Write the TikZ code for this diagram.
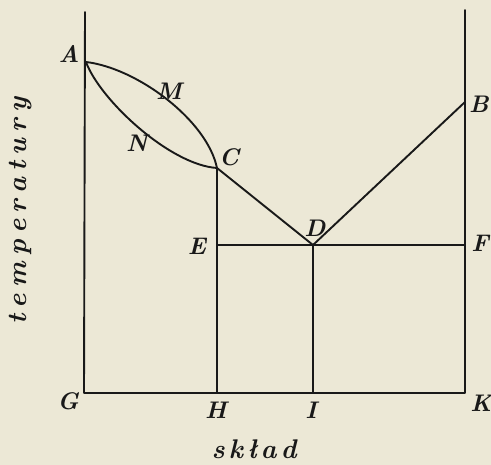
\documentclass[tikz,border=0pt]{standalone}
\usepackage{fontspec}
\definecolor{bgcol}{RGB}{236,232,214}
\definecolor{ink}{RGB}{25,25,25}
\begin{document}
\begin{tikzpicture}[x=1pt,y=-1pt,
  ln/.style={line width=1.9pt, draw=ink, line cap=round, line join=round},
  lbl/.style={font=\fontsize{24}{28}\selectfont\bfseries\itshape, text=ink, inner sep=0pt},
  axtext/.style={font=\fontsize{27}{30}\selectfont\bfseries\itshape, text=ink, inner sep=0pt}]
\fill[bgcol] (0,0) rectangle (491,465);
\useasboundingbox (0,0) rectangle (491,465);
% points
\coordinate (ltop) at (85,12);
\coordinate (rtop) at (465,10);
\coordinate (pA) at (86,62);
\coordinate (pB) at (465,102);
\coordinate (pC) at (217,168);
\coordinate (pD) at (313,245);
\coordinate (pE) at (217,245);
\coordinate (pF) at (465,245);
\coordinate (pG) at (84,393);
\coordinate (pH) at (217,393);
\coordinate (pI) at (313,393);
\coordinate (pK) at (465,393);
% lines
\draw[ln] (ltop) -- (pG) -- (pK) -- (rtop);
\draw[ln] (pA) .. controls (137,68) and (207,120) .. (pC);
\draw[ln] (pA) .. controls (100,100) and (170,165) .. (pC);
\draw[ln] (pC) -- (pD) -- (pB);
\draw[ln] (pC) -- (pH);
\draw[ln] (pE) -- (pF);
\draw[ln] (pD) -- (pI);
% labels
\node[lbl] (lA) at (69,54) {A};
\node[lbl] (lM) at (169,91) {M};
\node[lbl] (lN) at (137,143) {N};
\node[lbl] (lC) at (229,157) {C};
\node[lbl] (lB) at (479,104) {B};
\node[lbl] (lD) at (315,228) {D};
\node[lbl] (lE) at (197,246) {E};
\node[lbl] (lF) at (480,243) {F};
\node[lbl] (lG) at (68,401) {G};
\node[lbl] (lH) at (216,410) {H};
\node[lbl] (lI) at (311,410) {I};
\node[lbl] (lK) at (481,403) {K};
\node[axtext, rotate=90] (ytitle) at (21,211) {\makebox[227pt][s]{t\hfill e\hfill m\hfill p\hfill e\hfill r\hfill a\hfill t\hfill u\hfill r\hfill y}};
\node[axtext] (xtitle) at (254,449) {\makebox[85pt][s]{s\hfill k\hfill ł\hfill a\hfill d}};
\end{tikzpicture}
\end{document}
